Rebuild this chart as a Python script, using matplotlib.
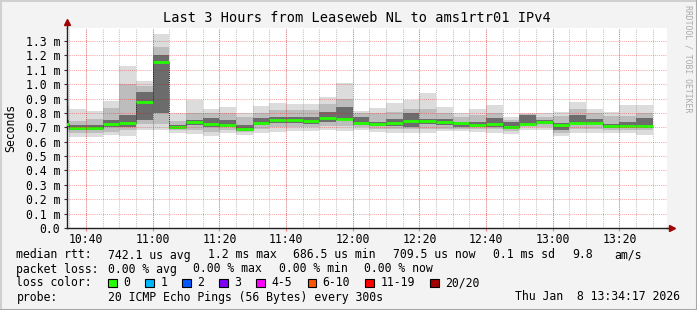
import numpy as np
import pandas as pd
import matplotlib
matplotlib.use("Agg")
import matplotlib.pyplot as plt
import matplotlib.dates as mdates
from matplotlib.patches import Rectangle
from matplotlib.lines import Line2D

"""
SmokePing style latency graph: last 3 hours, Leaseweb NL -> ams1rtr01 IPv4
"""

W, H = 697, 310
FONT = "DejaVu Sans Mono"

# one bar per 5 minute step, first one starts at 10:30 (clipped at the left edge)
bar_start = pd.date_range("2026-01-08 10:30", periods=36, freq="5min")
view_start = pd.Timestamp("2026-01-08 10:34:17")
view_end = pd.Timestamp("2026-01-08 13:34:17")

# round trip times in ms
rtt_min = [0.670, 0.635, 0.635, 0.647, 0.642, 0.682, 0.682, 0.659, 0.654, 0.640,
           0.659, 0.647, 0.663, 0.670, 0.677, 0.677, 0.682, 0.675, 0.682, 0.670,
           0.663, 0.659, 0.663, 0.677, 0.677, 0.670, 0.663, 0.654, 0.682, 0.682,
           0.640, 0.659, 0.659, 0.659, 0.659, 0.647]
rtt_mid_lo = [0.690, 0.660, 0.660, 0.670, 0.682, 0.720, 0.720, 0.680, 0.682, 0.670,
              0.680, 0.665, 0.690, 0.700, 0.700, 0.700, 0.710, 0.710, 0.700, 0.690,
              0.690, 0.690, 0.690, 0.690, 0.690, 0.690, 0.690, 0.675, 0.700, 0.700,
              0.659, 0.690, 0.690, 0.680, 0.680, 0.680]
rtt_core_lo = [0.700, 0.682, 0.682, 0.700, 0.700, 0.751, 0.800, 0.690, 0.716, 0.705,
               0.705, 0.677, 0.716, 0.728, 0.728, 0.720, 0.740, 0.750, 0.716, 0.710,
               0.710, 0.705, 0.720, 0.716, 0.705, 0.700, 0.703, 0.690, 0.715, 0.720,
               0.680, 0.728, 0.720, 0.700, 0.700, 0.700]
rtt_median = [0.723, 0.698, 0.698, 0.721, 0.733, 0.879, 1.157, 0.705, 0.735, 0.723,
              0.719, 0.689, 0.730, 0.751, 0.751, 0.744, 0.765, 0.758, 0.730, 0.726,
              0.730, 0.747, 0.747, 0.737, 0.730, 0.719, 0.723, 0.705, 0.723, 0.737,
              0.719, 0.733, 0.733, 0.712, 0.712, 0.712]
rtt_core_hi = [0.750, 0.716, 0.716, 0.751, 0.786, 0.948, 1.200, 0.716, 0.750, 0.763,
               0.750, 0.716, 0.763, 0.774, 0.774, 0.770, 0.809, 0.840, 0.770, 0.740,
               0.755, 0.798, 0.760, 0.760, 0.740, 0.740, 0.763, 0.740, 0.786, 0.750,
               0.728, 0.786, 0.760, 0.720, 0.740, 0.763]
rtt_mid_hi = [0.850, 0.745, 0.756, 0.833, 1.000, 0.985, 1.261, 0.745, 0.800, 0.800,
              0.800, 0.770, 0.800, 0.820, 0.820, 0.820, 0.860, 0.900, 0.800, 0.800,
              0.810, 0.830, 0.830, 0.800, 0.770, 0.785, 0.800, 0.750, 0.790, 0.770,
              0.780, 0.830, 0.800, 0.780, 0.780, 0.800]
rtt_max = [1.000, 0.828, 0.814, 0.886, 1.129, 1.025, 1.350, 0.800, 0.890, 0.828,
           0.840, 0.800, 0.849, 0.872, 0.863, 0.863, 0.909, 1.006, 0.816, 0.833,
           0.867, 0.890, 0.941, 0.840, 0.798, 0.826, 0.856, 0.774, 0.798, 0.798,
           0.809, 0.879, 0.828, 0.809, 0.856, 0.856]

y_ticks = [0.0, 0.1, 0.2, 0.3, 0.4, 0.5, 0.6, 0.7, 0.8, 0.9, 1.0, 1.1, 1.2, 1.3]
x_ticks = ["10:40", "11:00", "11:20", "11:40", "12:00", "12:20", "12:40", "13:00", "13:20"]

loss_labels = ["0", "1", "2", "3", "4-5", "6-10", "11-19", "20/20"]
loss_colors = ["#26ff00", "#00b8ff", "#0059ff", "#7e00ff", "#ff00ff", "#ff5500", "#ff0000", "#a00000"]

median_line = ["median rtt:", "742.1 us avg", "1.2 ms max", "686.5 us min",
               "709.5 us now", "0.1 ms sd", "9.8", "am/s"]
loss_line = ["packet loss:", "0.00 % avg", "0.00 % max", "0.00 % min", "0.00 % now"]


def ftext(x, y, s, **kw):
    """place text using pixel coords measured from the top left corner"""
    kw.setdefault("fontsize", 8.3)
    kw.setdefault("family", FONT)
    kw.setdefault("va", "center")
    kw.setdefault("color", "#000000")
    return fig.text(x / W, 1 - y / H, s, **kw)


fig = plt.figure(figsize=(W / 100, H / 100), dpi=100, facecolor="#f3f3f3")

# canvas frame
fig.add_artist(Line2D([0, 1], [1, 1], transform=fig.transFigure, color="#d0d0d0", lw=2.2))
fig.add_artist(Line2D([0, 0], [0, 1], transform=fig.transFigure, color="#d0d0d0", lw=2.2))
fig.add_artist(Line2D([0, 1], [0, 0], transform=fig.transFigure, color="#a8a8a8", lw=2.2))
fig.add_artist(Line2D([1, 1], [0, 1], transform=fig.transFigure, color="#a8a8a8", lw=2.2))

ax = fig.add_axes([67 / W, 82 / H, 600 / W, 200 / H])
ax.set_facecolor("white")

x = mdates.date2num(bar_start)
width = 5 / (24 * 60)
layers = [
    (rtt_min, rtt_max, "#dcdcdc"),
    (rtt_mid_lo, rtt_mid_hi, "#bdbdbd"),
    (rtt_core_lo, rtt_core_hi, "#6c6c6c"),
]
for lo, hi, col in layers:
    lo = np.array(lo)
    hi = np.array(hi)
    ax.bar(x, hi - lo, bottom=lo, width=width, align="edge", color=col, linewidth=0, zorder=1)

# median step line
med = np.array(rtt_median)
ax.vlines(x[1:], med[:-1], med[1:], colors="#000000", linestyles=(0, (1, 1)), lw=0.7, zorder=2)
ax.hlines(med, x, x + width, colors=loss_colors[0], lw=2, zorder=3)

ax.set_xlim(mdates.date2num(view_start), mdates.date2num(view_end))
ax.set_ylim(0, 1.391)

# grid drawn over the data like rrdtool does
major_col = (1, 0, 0, 0.35)
minor_col = (0.5, 0.5, 0.5, 0.45)
dots = (0, (1, 1))
minor_x = pd.date_range("2026-01-08 10:35", "2026-01-08 13:30", freq="5min")
for t in mdates.date2num(minor_x):
    ax.axvline(t, color=minor_col, lw=0.75, ls=dots, zorder=4)
major_x = [mdates.date2num(pd.Timestamp("2026-01-08 " + s)) for s in x_ticks]
for t in major_x:
    ax.axvline(t, color=major_col, lw=0.75, ls=dots, zorder=4)
for v in y_ticks[1:]:
    ax.axhline(v, color=major_col, lw=0.75, ls=dots, zorder=4)

ax.set_xticks(major_x)
ax.set_xticklabels(x_ticks, family=FONT, fontsize=8.3)
ax.set_yticks(y_ticks)
ax.set_yticklabels([("%.1f m" % v) if v > 0 else "0.0" for v in y_ticks], family=FONT, fontsize=8.3)
ax.tick_params(axis="x", length=2, width=0.8, pad=1.5, color=(1, 0, 0, 0.5))
ax.tick_params(axis="y", length=2, width=0.8, pad=3, color="#333333")

for s in ["top", "right"]:
    ax.spines[s].set_visible(False)
for s in ["left", "bottom"]:
    ax.spines[s].set_color("#202020")
    ax.spines[s].set_linewidth(1)

# axis arrows
ax.plot([0, 0], [1, 1.025], color="#202020", lw=1, transform=ax.transAxes, clip_on=False)
ax.plot([1, 1.007], [0, 0], color="#202020", lw=1, transform=ax.transAxes, clip_on=False)
ax.plot([0], [1.03], marker="^", ms=4, color="#a00000", transform=ax.transAxes, clip_on=False)
ax.plot([1.008], [0], marker=">", ms=4, color="#a00000", transform=ax.transAxes, clip_on=False)

ftext(10.5, 128, "Seconds", rotation=90, ha="center")
ftext(357, 18, "Last 3 Hours from Leaseweb NL to ams1rtr01 IPv4", fontsize=9.8, ha="center")
ftext(688, 59, "RRDTOOL / TOBI OETIKER", fontsize=5.9, color="#aaaaaa", rotation=-90, ha="center")

# legend rows
for px, s in zip([16.4, 108, 207.6, 293, 393, 493, 572, 614.7], median_line):
    ftext(px, 255, s)
for px, s in zip([16.4, 108, 193.3, 278.7, 364.4], loss_line):
    ftext(px, 269, s)

ftext(16.4, 283, "loss color:")
box_x = [108, 145.3, 182, 219, 256.4, 307.6, 365.3, 430]
for bx, lab, col in zip(box_x, loss_labels, loss_colors):
    fig.add_artist(Rectangle((bx / W, 1 - 287.3 / H), 8.5 / W, 8.7 / H, transform=fig.transFigure,
                             facecolor=col, edgecolor="#000000", lw=0.8))
    ftext(bx + 15, 283, lab)

ftext(16.4, 297, "probe:")
ftext(108, 297, "20 ICMP Echo Pings (56 Bytes) every 300s")
ftext(680, 297, "Thu Jan  8 13:34:17 2026", ha="right")

fig.savefig("out.png", dpi=100, facecolor=fig.get_facecolor())
